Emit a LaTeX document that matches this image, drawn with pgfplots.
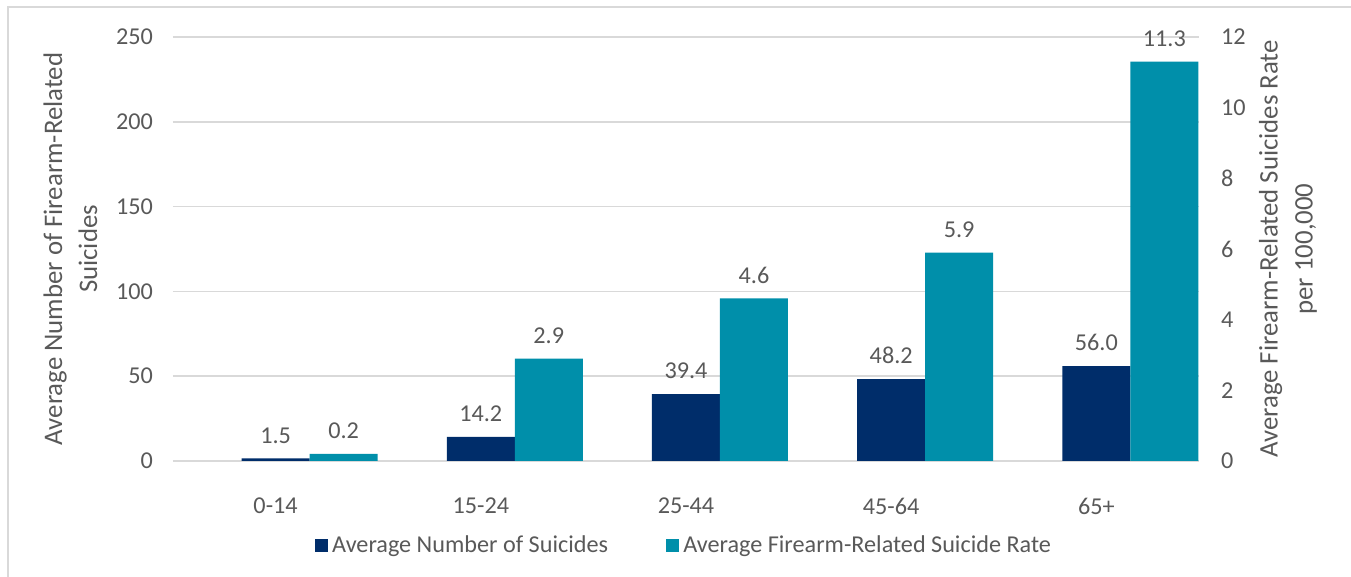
\documentclass[border=0pt]{standalone}
\usepackage{fontspec}
\setmainfont{Carlito}
\usepackage{pgfplots}
\pgfplotsset{compat=1.18}
\definecolor{dk}{HTML}{002D6A}
\definecolor{tl}{HTML}{008FAA}
\definecolor{tx}{HTML}{595959}
\definecolor{gr}{HTML}{D9D9D9}
\tikzset{ylab/.style={at={(axis description cs:#1,0.5)}, rotate=90, anchor=center,
    align=center, text=tx, font=\fontsize{13.4}{17.5}\selectfont}}
\begin{document}
\begin{tikzpicture}[font=\fontsize{12.1}{17}\selectfont]
\useasboundingbox (-86.5pt,-58pt) rectangle (589pt,230.5pt);
\draw[gr, line width=0.8pt] (-82.5pt,-90pt) -- (-82.5pt,227pt) -- (620pt,227pt);
\pgfplotsset{
  base/.style={
    width=513pt, height=212pt, scale only axis,
    at={(0pt,0pt)}, anchor=south west,
    xmin=-0.5, xmax=4.5, ymin=0,
    ybar, bar width=34pt,
    axis line style={draw=none},
    major tick length=0pt,
    tick style={draw=none},
    /pgf/number format/assume math mode=true,
    tick label style={text=tx, font=\fontsize{12.1}{14}\selectfont},
    nodes near coords,
    nodes near coords style={text=tx, font=\fontsize{12.1}{14}\selectfont, yshift=4pt,
      /pgf/number format/fixed, /pgf/number format/precision=1,
      /pgf/number format/fixed zerofill},
  },
}
\begin{axis}[base,
  ymax=250, ytick={0,50,100,150,200,250},
  ymajorgrids, grid style={gr, line width=0.8pt},
  xtick={0,1,2,3,4},
  xticklabels={0-14,15-24,25-44,45-64,65+},
  xticklabel style={anchor=center, yshift=-22.5pt},
  yticklabel style={xshift=-6.5pt},
  ylabel={Average Number of Firearm-Related\\Suicides},
  every axis y label/.style={ylab=-0.0999},
]
\addplot[fill=dk, draw=none, bar shift=0pt] coordinates {(0,1.5) (1,14.2) (2,39.4) (3,48.2) (4,56.0)};
\end{axis}
\begin{axis}[base,
  ymax=12, ytick={0,2,4,6,8,10,12},
  axis y line*=right, axis x line=none,
  yticklabel style={xshift=7.5pt},
  ylabel={Average Firearm-Related Suicides Rate\\per 100,000},
  every axis y label/.style={ylab=1.0867},
  legend columns=2,
  legend style={at={(0.499,-0.2)}, anchor=center, draw=none, fill=none,
    text=tx, font=\fontsize{12.1}{14}\selectfont,
    /tikz/every even column/.append style={column sep=27pt}},
  legend image code/.code={\fill[#1] (0pt,-3.3pt) rectangle (6.6pt,3.3pt);},
]
\addlegendimage{fill=dk, draw=none}
\addlegendimage{fill=tl, draw=none}
\addplot[fill=tl, draw=none, bar shift=34pt, forget plot] coordinates {(0,0.2) (1,2.9) (2,4.6) (3,5.9) (4,11.3)};
\legend{Average Number of Suicides, Average Firearm-Related Suicide Rate}
\end{axis}
\end{tikzpicture}
\end{document}
